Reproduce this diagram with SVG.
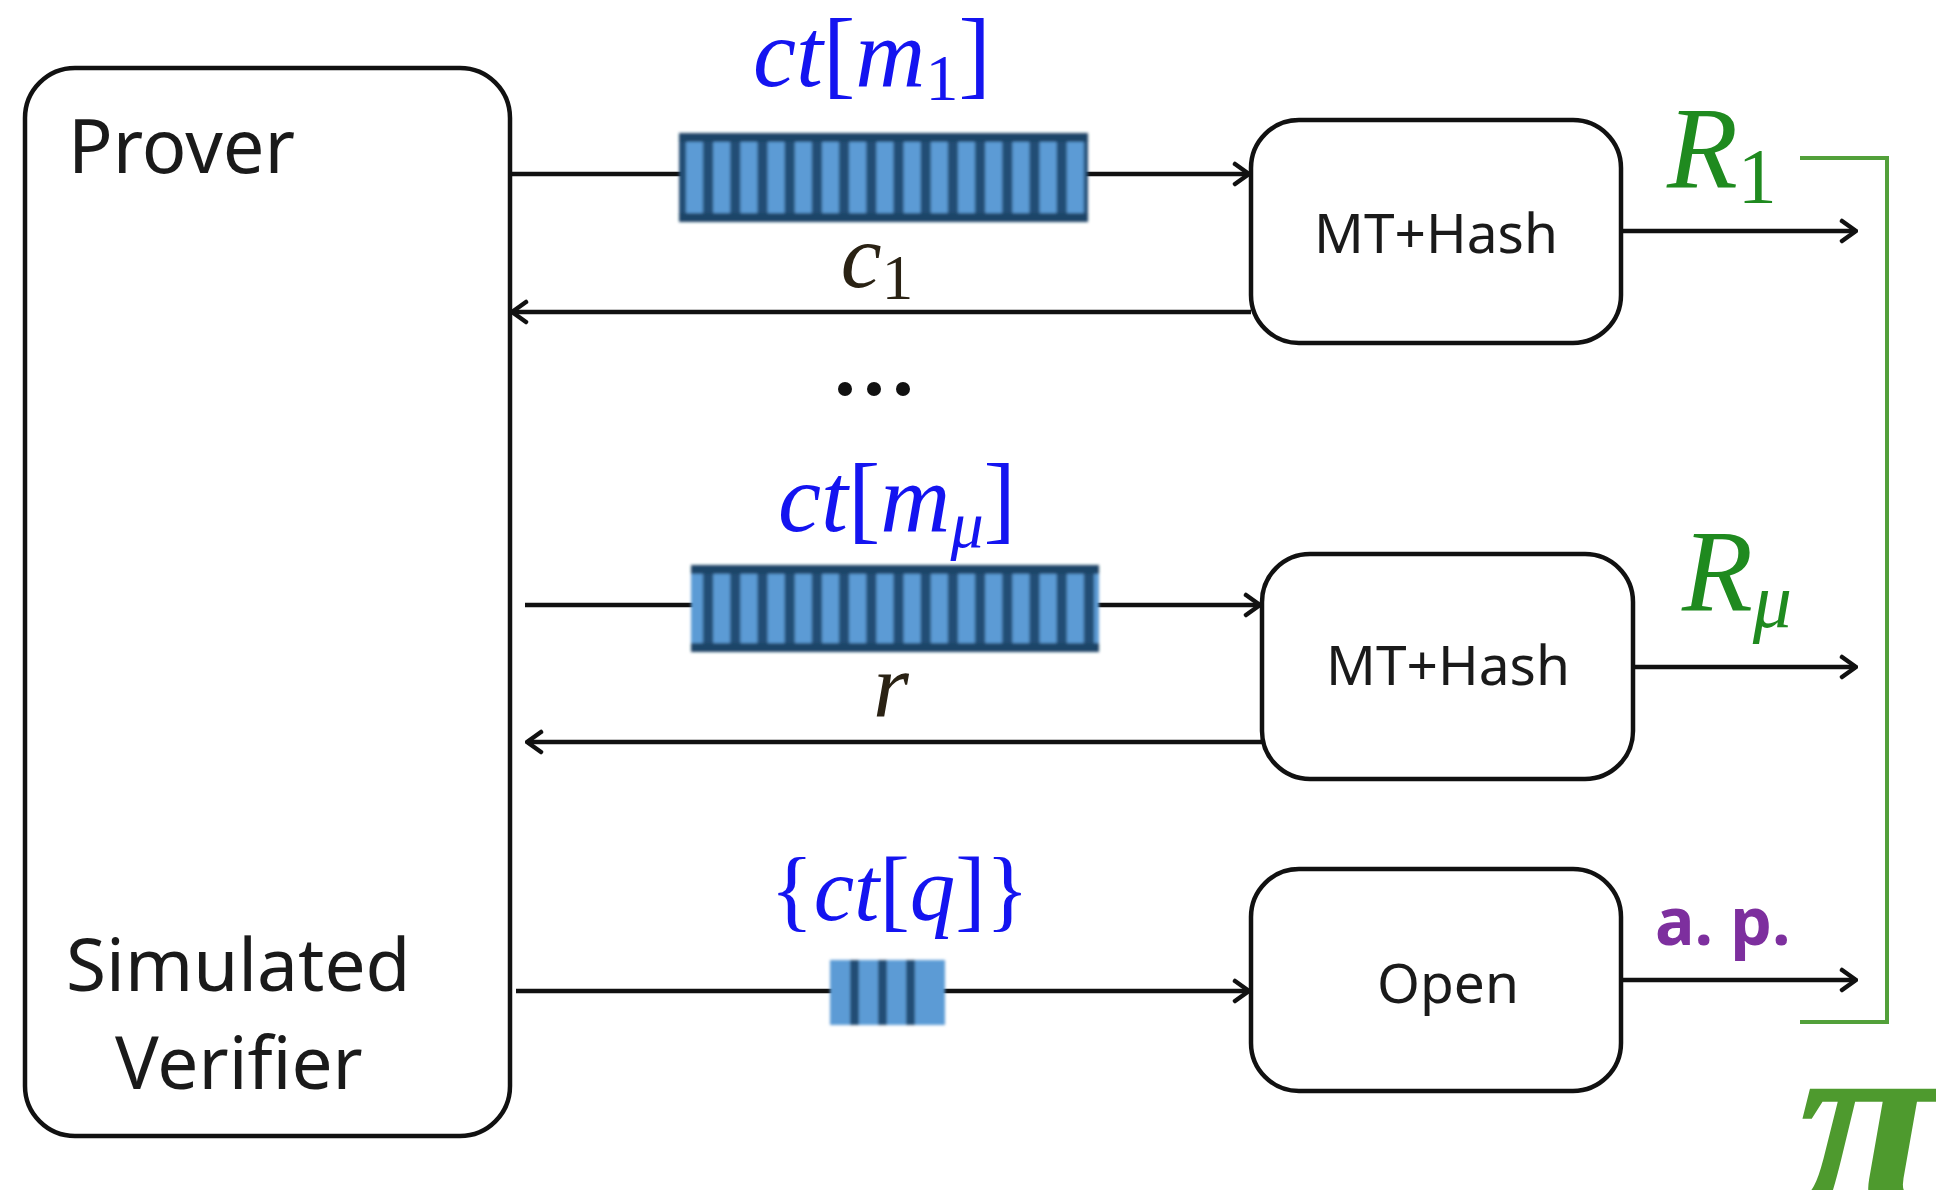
<svg xmlns="http://www.w3.org/2000/svg" width="1936" height="1190" viewBox="0 0 1936 1190">
  <style>
    .box { fill: #fff; stroke: #111; stroke-width: 4.5; }
    .lbl { font-family: "Noto Sans", "Liberation Sans", sans-serif; fill: #1a1a1a; }
    .wire { stroke: #111; stroke-width: 4.5; fill: none; }
    .math { font-family: "Liberation Serif", "DejaVu Serif", serif; }
    .it { font-style: italic; }
    .blue { fill: #1414f0; }
    .green { fill: #1f8a1f; }
    .dark { fill: #2a2214; }
  </style>
  <defs>
    <marker id="arr" viewBox="-18 -13 20 26" refX="0" refY="0" markerWidth="20" markerHeight="26" markerUnits="userSpaceOnUse" orient="auto">
      <path d="M-14,-10 L0,0 L-14,10" fill="none" stroke="#111" stroke-width="4.5" stroke-linecap="round" stroke-linejoin="round"/>
    </marker>
    <!-- striped cell pattern for the ciphertext bars -->
    <pattern id="cells" x="0" y="0" width="27.2" height="200" patternUnits="userSpaceOnUse">
      <rect x="0" y="0" width="27.2" height="200" fill="#234d74"/>
      <rect x="6" y="0" width="17" height="200" fill="#5b9bd5"/>
    </pattern>
    <filter id="soft" x="-5%" y="-10%" width="110%" height="120%">
      <feGaussianBlur stdDeviation="1.5"/>
    </filter>
  </defs>

  <!-- connectors -->
  <g id="connectors">
    <line class="wire" x1="510" y1="174" x2="1249" y2="174" marker-end="url(#arr)"/>
    <line class="wire" x1="1251" y1="312" x2="512" y2="312" marker-end="url(#arr)"/>
    <line class="wire" x1="1621" y1="231" x2="1856" y2="231" marker-end="url(#arr)"/>

    <line class="wire" x1="525" y1="605" x2="1260" y2="605" marker-end="url(#arr)"/>
    <line class="wire" x1="1262" y1="742" x2="527" y2="742" marker-end="url(#arr)"/>
    <line class="wire" x1="1633" y1="667" x2="1856" y2="667" marker-end="url(#arr)"/>

    <line class="wire" x1="516" y1="991" x2="1249" y2="991" marker-end="url(#arr)"/>
    <line class="wire" x1="1621" y1="980" x2="1856" y2="980" marker-end="url(#arr)"/>

    <!-- bracket collecting the proof -->
    <polyline points="1800,158 1887,158 1887,1022 1800,1022" fill="none" stroke="#52a03a" stroke-width="4"/>
  </g>

  <!-- ciphertext bars -->
  <g id="bar-m1" filter="url(#soft)">
    <rect x="679" y="133" width="409" height="89" fill="#1f4468"/>
    <rect x="679" y="142" width="409" height="71" fill="url(#cells)"/>
  </g>
  <g id="bar-mmu" filter="url(#soft)">
    <rect x="691" y="565" width="408" height="87" fill="#1f4468"/>
    <rect x="691" y="574" width="408" height="69" fill="url(#cells)"/>
  </g>
  <g id="bar-q" filter="url(#soft)">
    <rect x="830" y="960" width="115" height="65" fill="#5b9bd5"/>
    <rect x="850" y="960" width="9" height="65" fill="#234d74"/>
    <rect x="878" y="960" width="9" height="65" fill="#234d74"/>
    <rect x="906" y="960" width="9" height="65" fill="#234d74"/>
  </g>

  <!-- prover / simulated verifier -->
  <g id="prover">
    <rect class="box" x="25" y="68" width="485" height="1068" rx="50"/>
    <text class="lbl" x="68" y="173" font-size="74">Prover</text>
    <text class="lbl" x="66" y="991" font-size="73">Simulated</text>
    <text class="lbl" x="115" y="1089" font-size="73">Verifier</text>
  </g>

  <g id="mt-hash-1">
    <rect class="box" x="1251" y="120" width="370" height="223" rx="48"/>
    <text class="lbl" x="1436" y="253" font-size="55" text-anchor="middle">MT+Hash</text>
  </g>
  <g id="mt-hash-mu">
    <rect class="box" x="1262" y="554" width="371" height="225" rx="48"/>
    <text class="lbl" x="1448" y="685" font-size="55" text-anchor="middle">MT+Hash</text>
  </g>
  <g id="open">
    <rect class="box" x="1251" y="869" width="370" height="222" rx="48"/>
    <text class="lbl" x="1448" y="1003" font-size="55" text-anchor="middle">Open</text>
  </g>

  <!-- labels -->
  <g id="labels">
    <text class="math blue" x="753" y="86" font-size="97"><tspan class="it">ct</tspan>[<tspan class="it">m</tspan><tspan font-size="66" dy="14">1</tspan><tspan dy="-14">]</tspan></text>
    <text class="math dark" x="877" y="287" font-size="92" text-anchor="middle"><tspan class="it">c</tspan><tspan font-size="63" dy="12">1</tspan></text>
    <circle cx="845" cy="389" r="7" fill="#111"/>
    <circle cx="874" cy="389" r="7" fill="#111"/>
    <circle cx="903" cy="389" r="7" fill="#111"/>

    <text class="math blue" x="778" y="531" font-size="97"><tspan class="it">ct</tspan>[<tspan class="it">m</tspan><tspan class="it" font-size="66" dy="16">μ</tspan><tspan dy="-16">]</tspan></text>
    <text class="math dark it" x="891" y="716" font-size="92" text-anchor="middle">r</text>

    <text class="math blue" x="770" y="920" font-size="91">{<tspan class="it">ct</tspan>[<tspan class="it">q</tspan>]}</text>

    <text class="math green" x="1667" y="188" font-size="116"><tspan class="it">R</tspan><tspan font-size="78" dy="14">1</tspan></text>
    <text class="math green" x="1682" y="611" font-size="116"><tspan class="it">R</tspan><tspan class="it" font-size="78" dy="16">μ</tspan></text>
    <text x="1655" y="945" font-family="Noto Sans, Liberation Sans, sans-serif" font-weight="bold" font-size="66" fill="#7d2f9e">a. p.</text>

    <text x="1797" y="1208" font-family="Liberation Serif, serif" font-weight="bold" font-style="italic" font-size="260" fill="#4e9a2e">π</text>
  </g>
</svg>
